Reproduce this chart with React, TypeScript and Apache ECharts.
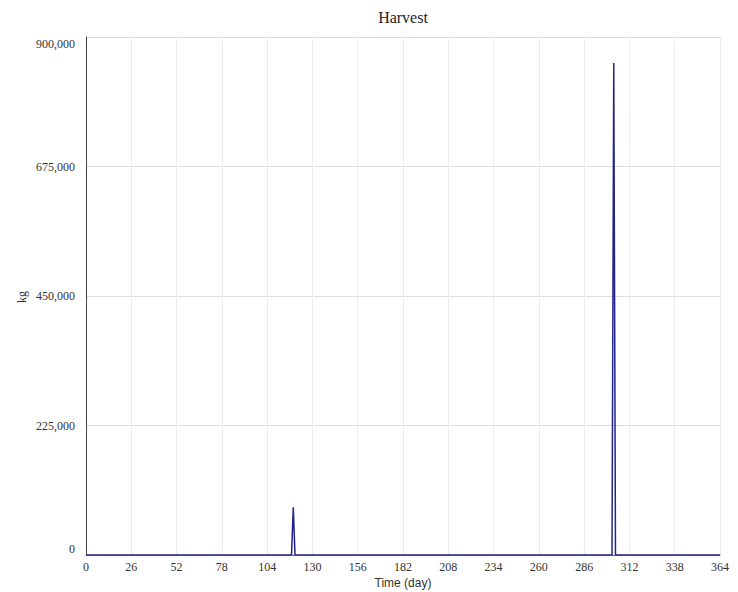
import React, { useEffect, useRef } from "react";
import * as echarts from "echarts";

const title = "Harvest";
const xAxisName = "Time (day)";
const yAxisName = "kg";
// [day, kg] — zero everywhere except the two harvest pulses
const harvestDays = [0, 118, 119, 120, 302, 303, 304, 364];
const harvestKg = [0, 0, 83000, 0, 0, 855000, 0, 0];
const xTicks = [0, 26, 52, 78, 104, 130, 156, 182, 208, 234, 260, 286, 312, 338, 364];
const yTicks = [0, 225000, 450000, 675000, 900000];

export default function App() {
  const ref = useRef<HTMLDivElement>(null);
  useEffect(() => {
    if (!ref.current) return;
    const chart = echarts.init(ref.current, null, { renderer: "svg" });
    const left = 86, right = 18, top = 37, bottom = 37;
    const plotCenter = left + (738 - left - right) / 2;
    const yMax = yTicks[yTicks.length - 1];
    chart.setOption({
      animation: false,
      backgroundColor: "#ffffff",
      grid: { left, right, top, bottom, containLabel: false },
      graphic: [
        {
          type: "text",
          x: plotCenter,
          y: 17,
          style: {
            text: title,
            font: "16px 'Liberation Serif', serif",
            fill: "#222",
            textAlign: "center",
            textVerticalAlign: "middle",
          },
        },
        {
          type: "text",
          x: plotCenter,
          y: 583,
          style: {
            text: xAxisName,
            font: "12px 'Liberation Sans', Arial, sans-serif",
            fill: "#333",
            textAlign: "center",
            textVerticalAlign: "middle",
          },
        },
        {
          type: "text",
          x: 22,
          y: 297,
          rotation: Math.PI / 2,
          style: {
            text: yAxisName,
            font: "12px 'Liberation Serif', serif",
            fill: "#333",
            textAlign: "center",
            textVerticalAlign: "middle",
          },
        },
      ],
      xAxis: {
        type: "value",
        min: xTicks[0],
        max: xTicks[xTicks.length - 1],
        interval: 26,
        axisLine: { show: true, lineStyle: { color: "#6a6a8a", width: 1 } },
        axisTick: { show: false },
        axisLabel: {
          margin: 6,
          color: "#333",
          fontFamily: "'Liberation Serif', serif",
          fontSize: 12,
        },
        splitLine: { show: true, lineStyle: { color: "#ececf2", width: 1 } },
      },
      yAxis: {
        type: "value",
        min: yTicks[0],
        max: yMax,
        interval: 225000,
        axisLine: { show: true, lineStyle: { color: "#444", width: 1 } },
        axisTick: { show: false },
        axisLabel: {
          margin: 11,
          color: "#333",
          fontFamily: "'Liberation Serif', serif",
          fontSize: 12,
          formatter: (v: number) => {
            const s = v.toLocaleString("en-US");
            if (v === yMax) return "{top|" + s + "}";
            if (v === 0) return "{bot|" + s + "}";
            return s;
          },
          rich: {
            top: { padding: [14, 0, 0, 0], fontFamily: "'Liberation Serif', serif", fontSize: 12, color: "#333" },
            bot: { padding: [0, 0, 12, 0], fontFamily: "'Liberation Serif', serif", fontSize: 12, color: "#333" },
          },
        },
        splitLine: { show: true, lineStyle: { color: "#dcdcdc", width: 1 } },
      },
      series: [
        {
          type: "line",
          data: harvestDays.map((d, i) => [d, harvestKg[i]]),
          showSymbol: false,
          symbol: "none",
          lineStyle: { color: "#23238c", width: 1.5 },
          z: 3,
        },
      ],
    });
    return () => chart.dispose();
  }, []);
  return <div ref={ref} style={{ width: 738, height: 592, position: "absolute", left: 0, top: 0 }} />;
}
